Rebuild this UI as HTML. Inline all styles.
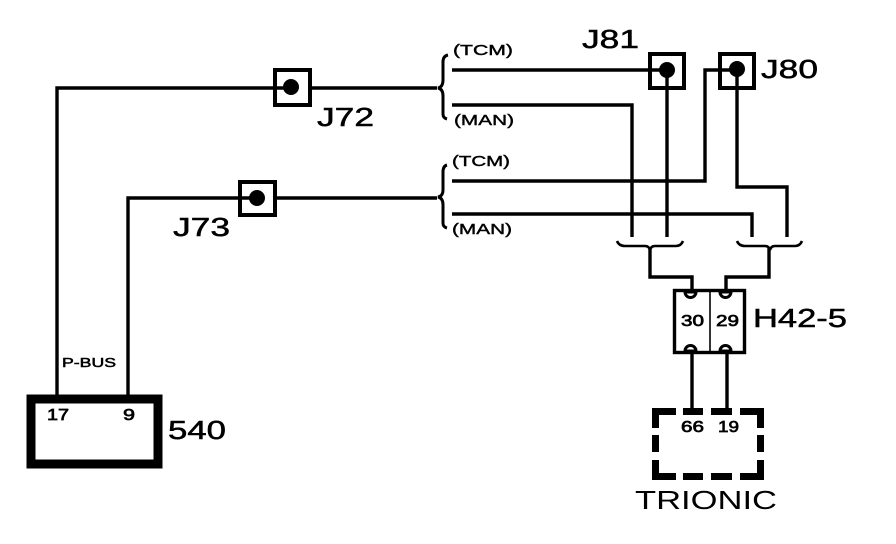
<!DOCTYPE html>
<html>
<head>
<meta charset="utf-8">
<style>
html,body{margin:0;padding:0;background:#fff;width:896px;height:544px;overflow:hidden}
svg{display:block}
text{font-family:"Liberation Sans",sans-serif;fill:#000}
</style>
</head>
<body>
<svg width="896" height="544" viewBox="0 0 896 544" xmlns="http://www.w3.org/2000/svg">
<rect width="896" height="544" fill="#fff"/>
<!-- wires -->
<g fill="none" stroke="#000" stroke-width="3.4">
<path d="M57 396V88H437"/>
<path d="M128 396V198H437"/>
<path d="M452 70H664"/>
<path d="M452 105H632V237"/>
<path d="M667 70V237"/>
<path d="M452 181H705V70H737"/>
<path d="M737 70V187H787V237"/>
<path d="M452 214H752V237"/>
<path d="M650 248V277H692V291"/>
<path d="M769 248V277H726V291"/>
<path d="M692 352V408"/>
<path d="M727 352V408"/>
</g>
<!-- junction boxes -->
<g fill="#fff" stroke="#000" stroke-width="4">
<rect x="275" y="70" width="35" height="35"/>
<rect x="240" y="182" width="35" height="33"/>
<rect x="650" y="54" width="34" height="34"/>
<rect x="720" y="54" width="34" height="34"/>
</g>
<g fill="#000">
<circle cx="291" cy="87" r="8"/>
<circle cx="257" cy="198" r="8"/>
<circle cx="667" cy="70" r="8"/>
<circle cx="737" cy="69" r="8"/>
</g>
<path d="M667 70V89M737 70V89" stroke="#000" stroke-width="3.4"/>
<path d="M275 88H291M240 198H257M650 70H667M720 70H737" stroke="#000" stroke-width="3.4"/>
<!-- braces -->
<g fill="none" stroke="#000" stroke-width="3">
<path d="M448 55Q443 56 443 62V80Q443 87 438 88Q443 89 443 96V114Q443 118 447 119"/>
<path d="M447 165Q443 166 443 172V190Q443 196 438 197Q443 198 443 205V223Q443 227 447 228"/>
</g>
<g fill="none" stroke="#000" stroke-width="2.6">
<path d="M617 241Q619 246 625 246H645Q649 246 650 250Q651 246 655 246H676Q681 246 683 241"/>
<path d="M737 241Q739 246 745 246H765Q769 246 770 250Q771 246 775 246H795Q800 246 802 241"/>
</g>
<!-- H42-5 -->
<rect x="674.500" y="290.500" width="70" height="62" fill="#fff" stroke="#000" stroke-width="3.4"/>
<path d="M710 290V352" stroke="#000" stroke-width="1.6"/>
<g fill="#fff" stroke="#000" stroke-width="3">
<path d="M685 292A5.500 5.500 0 0 0 696 292Z"/>
<path d="M720 292A5.500 5.500 0 0 0 731 292Z"/>
<path d="M685 351A5.500 5.500 0 0 1 696 351Z"/>
<path d="M720 351A5.500 5.500 0 0 1 731 351Z"/>
</g>
<!-- TRIONIC dashed box -->
<g fill="#000">
<rect x="652" y="408" width="24" height="7"/>
<rect x="683" y="408" width="20" height="7"/>
<rect x="711" y="408" width="21" height="7"/>
<rect x="740" y="408" width="24" height="7"/>
<rect x="652" y="408" width="7" height="20"/>
<rect x="757" y="408" width="7" height="20"/>
<rect x="652" y="435" width="7" height="17"/>
<rect x="757" y="435" width="7" height="17"/>
<rect x="652" y="460" width="7" height="20"/>
<rect x="757" y="460" width="7" height="20"/>
<rect x="652" y="473" width="24" height="7"/>
<rect x="683" y="473" width="20" height="7"/>
<rect x="711" y="473" width="21" height="7"/>
<rect x="740" y="473" width="24" height="7"/>
</g>
<!-- 540 box -->
<rect x="31" y="399" width="127" height="65" fill="#fff" stroke="#000" stroke-width="9"/>
<!-- labels -->
<g font-weight="400">
<text x="582" y="48" font-size="26" textLength="57" lengthAdjust="spacingAndGlyphs" stroke="#000" stroke-width=".5">J81</text>
<text x="761" y="78" font-size="26" textLength="57" lengthAdjust="spacingAndGlyphs" stroke="#000" stroke-width=".5">J80</text>
<text x="317" y="126" font-size="26" textLength="57" lengthAdjust="spacingAndGlyphs" stroke="#000" stroke-width=".5">J72</text>
<text x="173" y="236" font-size="26" textLength="57" lengthAdjust="spacingAndGlyphs" stroke="#000" stroke-width=".5">J73</text>
<text x="168" y="439" font-size="26" textLength="58" lengthAdjust="spacingAndGlyphs" stroke="#000" stroke-width=".5">540</text>
<text x="753" y="327" font-size="26" textLength="94" lengthAdjust="spacingAndGlyphs" stroke="#000" stroke-width=".5">H42-5</text>
<text x="635" y="509" font-size="26" textLength="142" lengthAdjust="spacingAndGlyphs">TRIONIC</text>
<text x="453" y="55" font-size="14.500" textLength="60" lengthAdjust="spacingAndGlyphs" stroke="#000" stroke-width=".4">(TCM)</text>
<text x="454" y="125" font-size="14.500" textLength="60" lengthAdjust="spacingAndGlyphs" stroke="#000" stroke-width=".4">(MAN)</text>
<text x="452" y="166" font-size="14.500" textLength="58" lengthAdjust="spacingAndGlyphs" stroke="#000" stroke-width=".4">(TCM)</text>
<text x="452" y="234" font-size="14.500" textLength="60" lengthAdjust="spacingAndGlyphs" stroke="#000" stroke-width=".4">(MAN)</text>
<text x="62" y="367" font-size="13" textLength="54" lengthAdjust="spacingAndGlyphs" stroke="#000" stroke-width=".5">P-BUS</text>
<text x="47" y="420" font-size="16" textLength="22" lengthAdjust="spacingAndGlyphs" stroke="#000" stroke-width=".7">17</text>
<text x="123" y="420" font-size="16" textLength="12" lengthAdjust="spacingAndGlyphs" stroke="#000" stroke-width=".7">9</text>
<text x="681" y="326" font-size="16" textLength="23" lengthAdjust="spacingAndGlyphs" stroke="#000" stroke-width=".7">30</text>
<text x="716" y="326" font-size="16" textLength="23" lengthAdjust="spacingAndGlyphs" stroke="#000" stroke-width=".7">29</text>
<text x="681" y="432" font-size="16" textLength="23" lengthAdjust="spacingAndGlyphs" stroke="#000" stroke-width=".7">66</text>
<text x="718" y="432" font-size="16" textLength="21" lengthAdjust="spacingAndGlyphs" stroke="#000" stroke-width=".7">19</text>
</g>
</svg>
</body>
</html>
